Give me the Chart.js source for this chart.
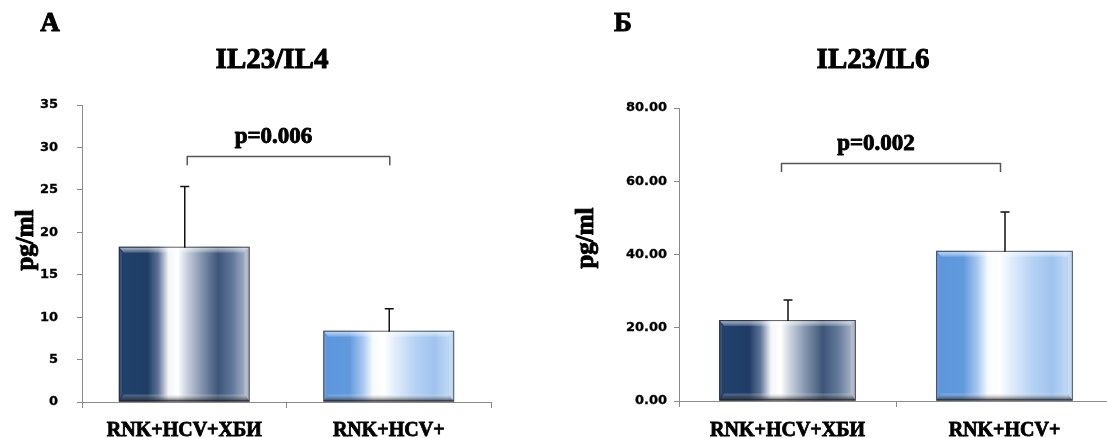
<!DOCTYPE html>
<html><head><meta charset="utf-8">
<script src="https://cdn.jsdelivr.net/npm/chart.js@4/dist/chart.umd.min.js"></script>
<style>
html,body{margin:0;padding:0;background:#fff;overflow:hidden;width:1107px;height:438px;position:relative}
canvas{position:absolute;top:0}
#c1{left:0}
#c2{left:553px}
</style></head>
<body>
<canvas id="c1" width="553" height="438"></canvas>
<canvas id="c2" width="562" height="438"></canvas>
<script>
// ---- data ----
const categories = ['RNK+HCV+ХБИ', 'RNK+HCV+'];
const il4Mean = [18.3, 8.4];
const il4SD = [7.1, 2.6];
const il6Mean = [22.1, 41.0];
const il6SD = [5.5, 10.6];
const il4TickMax = 35, il4TickStep = 5;
const il6TickMax = 80, il6TickStep = 20;
const panelLetters = ['А', 'Б'];
const panelTitles = ['IL23/IL4', 'IL23/IL6'];
const pLabels = ['p=0.006', 'p=0.002'];
const bracketLevel = [29.0, 65.0];
const bracketFoot = [27.9, 62.5];
const yTitle = 'pg/ml';

// ---- styles ----
const darkStops = [[0,'#1c3660'],[0.03,'#21406b'],[0.22,'#1f3d66'],[0.30,'#5d7396'],[0.38,'#f4f6f9'],[0.45,'#ffffff'],[0.52,'#c9d1dd'],[0.63,'#8595ae'],[0.76,'#3d5578'],[0.87,'#62799b'],[0.96,'#9eabc0'],[1,'#7d8ca5']];
const lightStops = [[0,'#5690d8'],[0.03,'#5d96dc'],[0.2,'#6199dd'],[0.30,'#a6c6ef'],[0.38,'#f8fbff'],[0.46,'#ffffff'],[0.55,'#e1ecfa'],[0.70,'#b6d2f4'],[0.85,'#9fc3ee'],[0.95,'#bdd6f5'],[1,'#9fbfe8']];
const serif = '"Liberation Serif", "Times New Roman", serif';
const sans = '"DejaVu Sans", sans-serif';

function grad(ctx, x0, x1, stops){
  const g = ctx.createLinearGradient(x0, 0, x1, 0);
  stops.forEach(([o,c]) => g.addColorStop(o, c));
  return g;
}
function poly(ctx, pts, fill){
  ctx.beginPath(); ctx.moveTo(pts[0][0], pts[0][1]);
  for (let i=1;i<pts.length;i++) ctx.lineTo(pts[i][0], pts[i][1]);
  ctx.closePath(); ctx.fillStyle = fill; ctx.fill();
}
function heavyText(ctx, s, x, y, w){
  ctx.fillText(s, x, y);
  ctx.lineWidth = w; ctx.strokeStyle = '#000'; ctx.lineJoin = 'round';
  ctx.strokeText(s, x, y);
}

function makePanel(canvasId, p){
  const decorate = {
    id: 'decorate',
    afterDatasetsDraw(chart){
      const ctx = chart.ctx;
      const ys = chart.scales.y;
      chart.getDatasetMeta(0).data.forEach((el, i) => {
        const {x, y, base, width} = el.getProps(['x','y','base','width'], true);
        const x0 = x - width/2, x1 = x + width/2, b = 5;
        ctx.save();
        // top bevel
        let g = ctx.createLinearGradient(0, y, 0, y + b + 1);
        g.addColorStop(0, 'rgba(255,255,255,0.15)'); g.addColorStop(0.3, 'rgba(255,255,255,0.55)'); g.addColorStop(1, 'rgba(255,255,255,0.15)');
        poly(ctx, [[x0,y],[x1,y],[x1-b,y+b+1],[x0+b,y+b+1]], g);
        // bottom bevel
        g = ctx.createLinearGradient(0, base - 7, 0, base);
        g.addColorStop(0, 'rgba(255,255,255,0.2)'); g.addColorStop(0.5, 'rgba(90,90,90,0.35)'); g.addColorStop(1, 'rgba(25,25,25,0.85)');
        poly(ctx, [[x0+b,base-7],[x1-b,base-7],[x1,base],[x0,base]], g);
        // right bevel (light strip)
        poly(ctx, [[x1-b,y+b+1],[x1,y],[x1,base],[x1-b,base-7]], 'rgba(255,255,255,0.3)');
        // left bevel
        poly(ctx, [[x0,y],[x0+3,y+b+1],[x0+3,base-7],[x0,base]], 'rgba(255,255,255,0.12)');
        ctx.strokeStyle = 'rgba(30,30,40,0.7)'; ctx.lineWidth = 1;
        ctx.strokeRect(x0 + 0.5, y + 0.5, width - 1, base - y - 1);
        ctx.restore();
        // error bar
        const top = ys.getPixelForValue(p.means[i] + p.sds[i]);
        const yb = ys.getPixelForValue(p.means[i]);
        ctx.save();
        ctx.strokeStyle = '#111'; ctx.lineWidth = 1.5;
        ctx.beginPath();
        ctx.moveTo(x + 0.5, yb + 1); ctx.lineTo(x + 0.5, top);
        ctx.moveTo(x - 4, top); ctx.lineTo(x + 5, top);
        ctx.stroke();
        ctx.restore();
      });
    },
    afterDraw(chart){
      const ctx = chart.ctx;
      const ys = chart.scales.y, xs = chart.scales.x;
      ctx.save();
      ctx.fillStyle = '#000';
      ctx.textAlign = 'center'; ctx.textBaseline = 'middle';
      ctx.font = 'bold 27px ' + serif;
      heavyText(ctx, p.letter, p.letterX, 24, 1);
      ctx.font = 'bold 29px ' + serif;
      heavyText(ctx, p.title, p.titleX, 61, 1);
      // bracket
      const xa = xs.getPixelForValue(0) + p.brOff[0], xb = xs.getPixelForValue(1) + p.brOff[1];
      const yl = Math.round(ys.getPixelForValue(p.brLevel)) + 0.5, yf = ys.getPixelForValue(p.brFoot);
      ctx.strokeStyle = '#555'; ctx.lineWidth = 1.5;
      ctx.beginPath();
      ctx.moveTo(xa, yf); ctx.lineTo(xa, yl); ctx.lineTo(xb, yl); ctx.lineTo(xb, yf);
      ctx.stroke();
      ctx.font = 'bold 23px ' + serif;
      heavyText(ctx, p.pLabel, (xa + xb)/2 - 15, yl - 19, 0.9);
      // y title
      ctx.translate(p.yTitleX, p.yTitleY);
      ctx.rotate(-Math.PI/2);
      ctx.font = 'bold 25px ' + serif;
      heavyText(ctx, yTitle, 0, 0, 0.9);
      ctx.restore();
    }
  };
  return new Chart(document.getElementById(canvasId), {
    type: 'bar',
    data: {
      labels: categories,
      datasets: [{
        data: p.means,
        barPercentage: p.barPct,
        categoryPercentage: 1,
        borderWidth: 0,
        backgroundColor: (c) => {
          const fallback = c.dataIndex === 0 ? '#2a4a75' : '#8ab6ea';
          const ch = c.chart, xs = ch.scales && ch.scales.x;
          if (!xs || c.dataIndex === undefined) return fallback;
          const cw = xs.width / categories.length, w = cw * p.barPct;
          const xc = xs.getPixelForValue(c.dataIndex);
          if (!isFinite(xc) || !isFinite(w) || w <= 0) return fallback;
          return grad(ch.ctx, xc - w/2, xc + w/2, c.dataIndex === 0 ? darkStops : lightStops);
        }
      }]
    },
    options: {
      responsive: false,
      animation: false,
      devicePixelRatio: 1,
      layout: { padding: { left: 0, right: p.padRight, top: p.top, bottom: 0 } },
      plugins: { legend: { display: false }, tooltip: { enabled: false }, title: { display: false } },
      scales: {
        x: {
          grid: { display: true, drawOnChartArea: false, drawTicks: true, tickLength: 6, color: '#8a8a8a', offset: true },
          border: { display: true, color: '#8a8a8a', width: 1 },
          ticks: { color: '#000', font: { family: serif, size: 20, weight: 'bold' }, padding: p.xPad, maxRotation: 0, autoSkip: false,
                   textStrokeColor: '#000', textStrokeWidth: 0.8 },
          afterFit: (s) => { s.height = p.xHeight; }
        },
        y: {
          min: 0, max: p.max,
          grid: { display: true, drawOnChartArea: false, drawTicks: true, tickLength: 5, color: '#8a8a8a' },
          border: { display: true, color: '#8a8a8a', width: 1 },
          ticks: { stepSize: p.step, color: '#000', padding: p.yPad, font: { family: sans, size: p.tickSize, weight: 'bold' },
                   textStrokeColor: '#000', textStrokeWidth: 0.3,
                   callback: (v) => v.toFixed(p.decimals) },
          afterFit: (s) => { s.width = p.yWidth; }
        }
      }
    },
    plugins: [decorate]
  });
}

makePanel('c1', {
  means: il4Mean, sds: il4SD, max: il4TickMax, step: il4TickStep, decimals: 0,
  letter: panelLetters[0], title: panelTitles[0], pLabel: pLabels[0],
  brLevel: bracketLevel[0], brFoot: bracketFoot[0], brOff: [3, 1],
  letterX: 50, titleX: 272, yTitleX: 27, yTitleY: 240,
  barPct: 0.64, padRight: 62, top: 105, xHeight: 36, yWidth: 82, yPad: 19, xPad: 11, tickSize: 13
});
makePanel('c2', {
  means: il6Mean, sds: il6SD, max: il6TickMax, step: il6TickStep, decimals: 2,
  letter: panelLetters[1], title: panelTitles[1], pLabel: pLabels[1],
  brLevel: bracketLevel[1], brFoot: bracketFoot[1], brOff: [-6, -4],
  letterX: 70, titleX: 320, yTitleX: 34, yTitleY: 238,
  barPct: 0.63, padRight: 2, top: 108, xHeight: 37, yWidth: 126, yPad: 7, xPad: 12, tickSize: 13
});
</script>
</body></html>
